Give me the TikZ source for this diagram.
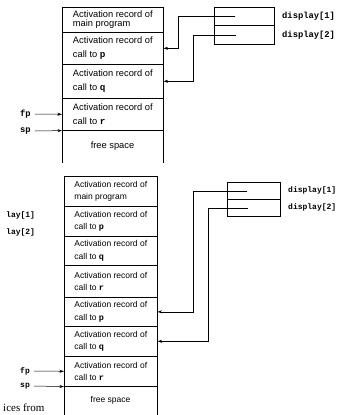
\documentclass[tikz,border=0pt]{standalone}
\usepackage{fontspec}
\setmainfont{Liberation Sans}
\setmonofont{Liberation Mono}
\newfontfamily\bookserif{Liberation Serif}
\usetikzlibrary{arrows.meta}

\tikzset{
  rec/.style={draw, line width=0.6pt, inner sep=0pt, align=left, anchor=north west},
  topcell/.style={rec, minimum width=101pt, font=\fontsize{9.3}{14}\selectfont},
  botcell/.style={rec, minimum width=93pt, font=\fontsize{8.5}{12.5}\selectfont},
  ptr/.style={line width=0.5pt, -{Stealth[length=4.5pt,width=3pt]}},
  code/.style={anchor=west, inner sep=1pt, font=\fontsize{8.8}{10}\selectfont\ttfamily\bfseries},
  smallcode/.style={code, font=\fontsize{8}{10}\selectfont\ttfamily\bfseries},
}
\newcommand{\cd}[1]{\texttt{\bfseries #1}}

\begin{document}
\begin{tikzpicture}[x=1pt, y=-1pt]
    \useasboundingbox (0,0) rectangle (339,415);

    % first stack
    \node[topcell, minimum height=25pt, font=\fontsize{9.3}{9.5}\selectfont] (main) at (62,7) {Activation record of\\main program};
    \node[topcell, minimum height=32pt] (p) at (62,32) {Activation record of\\call to \cd{p}};
    \node[topcell, minimum height=34pt] (q) at (62,64) {Activation record of\\call to \cd{q}};
    \node[topcell, minimum height=32pt] (r) at (62,98) {Activation record of\\call to \cd{r}};
    \node[font=\fontsize{9.3}{11}\selectfont] (free) at (112.5,146) {free space};
    \draw[line width=0.6pt] (r.south west) -- ++(0,32);
    \draw[line width=0.6pt] (r.south east) -- ++(0,32);

    % first display
    \node[rec, minimum width=60pt, minimum height=18pt] (d1) at (214,7) {};
    \node[rec, minimum width=60pt, minimum height=19pt] (d2) at (214,25) {};
    \node[code] (l1) at (281,16) {display[1]};
    \node[code] (l2) at (281,35) {display[2]};
    \coordinate (s1) at ([xshift=-9pt]d1.center);
    \coordinate (s2) at ([xshift=-8pt]d2.center);
    \draw[ptr] (s1) -| ([xshift=15pt]p.east) -- (p.east);
    \draw[ptr] (s2) -| ([xshift=30pt]q.east) -- (q.east);

    % frame and stack pointers
    \node[code] (fp) at (19,114) {fp};
    \node[code] (sp) at (19,131) {sp};
    \draw[ptr] ([xshift=3pt]fp.east) -- (r.west);
    \draw[ptr] ([xshift=3pt]sp.east) -- (r.south west);

    % second stack
    \node[botcell, minimum height=30pt, font=\fontsize{8.5}{12.5}\selectfont] (main2) at (64,176) {Activation record of\\main program};
    \node[botcell, minimum height=30pt] (p2) at (64,206) {Activation record of\\call to \cd{p}};
    \node[botcell, minimum height=29pt] (q2) at (64,236) {Activation record of\\call to \cd{q}};
    \node[botcell, minimum height=32pt] (r2) at (64,265) {Activation record of\\call to \cd{r}};
    \node[botcell, minimum height=29pt] (p3) at (64,297) {Activation record of\\call to \cd{p}};
    \node[botcell, minimum height=30pt] (q3) at (64,326) {Activation record of\\call to \cd{q}};
    \node[botcell, minimum height=30pt] (r3) at (64,356) {Activation record of\\call to \cd{r}};
    \node[font=\fontsize{8.5}{10}\selectfont] (free2) at (110.5,400) {free space};
    \draw[line width=0.6pt] (r3.south west) -- ++(0,29);
    \draw[line width=0.6pt] (r3.south east) -- ++(0,29);

    % second display
    \node[rec, minimum width=53pt, minimum height=17pt] (e1) at (227,182) {};
    \node[rec, minimum width=53pt, minimum height=17pt] (e2) at (227,199) {};
    \node[smallcode] (m1) at (287,190.5) {display[1]};
    \node[smallcode] (m2) at (287,207.5) {display[2]};
    \coordinate (t1) at ([xshift=-7pt]e1.center);
    \coordinate (t2) at ([xshift=-6pt]e2.center);
    \draw[ptr] (t1) -| ([xshift=36pt]p3.east) -- (p3.east);
    \draw[ptr] (t2) -| ([xshift=51pt]q3.east) -- (q3.east);

    \node[smallcode] (fp2) at (19,371) {fp};
    \node[smallcode] (sp2) at (19,386) {sp};
    \draw[ptr] ([xshift=3pt]fp2.east) -- (r3.west);
    \draw[ptr] ([xshift=3pt]sp2.east) -- (r3.south west);

    % cut-off text at the left edge
    \node[smallcode] (c1) at (5,215) {lay[1]};
    \node[smallcode] (c2) at (5,232) {lay[2]};
    \node[anchor=west, inner sep=0pt, font=\fontsize{11}{12}\bookserif] (c3) at (3,408) {ices from};

\end{tikzpicture}
\end{document}
